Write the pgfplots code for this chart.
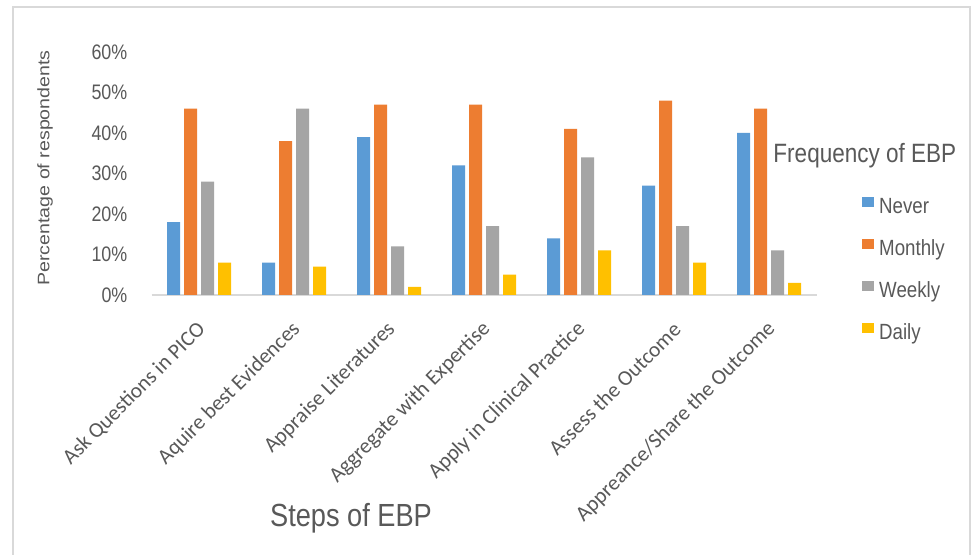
\documentclass[border=0pt]{standalone}
\usepackage{fontspec}
\usepackage{graphicx}
\usepackage{pgfplots}
\pgfplotsset{compat=1.18}
\setmainfont{Liberation Sans}
\newfontfamily\nar[FakeStretch=0.85]{Liberation Sans}
\newfontfamily\calfont{Carlito}
\definecolor{cNever}{HTML}{5B9BD5}
\definecolor{cMonthly}{HTML}{ED7D31}
\definecolor{cWeekly}{HTML}{A5A5A5}
\definecolor{cDaily}{HTML}{FFC000}
\definecolor{txt}{HTML}{595959}
\definecolor{framec}{HTML}{D9D9D9}
\begin{document}
\begin{tikzpicture}[x=1pt,y=1pt]
\useasboundingbox (0,0) rectangle (974,554);
\fill[white] (0,0) rectangle (974,554);
\draw[framec, line width=1.5pt] (13,-10) rectangle (970,547);
\begin{axis}[
  at={(151.5pt,259pt)}, anchor=south west,
  scale only axis, width=665pt, height=243pt,
  xmin=-0.5, xmax=6.5, ymin=0, ymax=60,
  clip=false,
  ybar=4pt, bar width=13pt,
  axis x line=bottom, axis y line=left,
  x axis line style={draw=framec, line width=1.2pt, -},
  y axis line style={draw=none},
  major tick length=0pt,
  xtick={0,...,6},
  xticklabels={Ask Questions in PICO, Aquire best Evidences, Appraise Literatures, Aggregate with Expertise, Apply in Clinical Practice, Assess the Outcome, Appreance/Share the Outcome},
  ytick={0,10,...,60},
  yticklabels={0\%,10\%,20\%,30\%,40\%,50\%,60\%},
  yticklabel style={font=\nar\fontsize{21}{25}\selectfont, text=txt, inner sep=0pt, xshift=-24pt},
  xticklabel style={font=\calfont\fontsize{21.5}{26}\selectfont, text=txt, inner sep=0pt, xshift=3pt, yshift=-31pt, rotate=45, anchor=east},
  ylabel={\scalebox{1}[0.85]{Percentage of respondents}},
  every axis y label/.style={at={(axis description cs:-0.160,0.523)}, rotate=90, anchor=center, font=\fontsize{19.6}{23}\selectfont, text=txt},
  xlabel={Steps of EBP},
  every axis x label/.style={at={(axis description cs:0.300,-0.918)}, anchor=center, font=\nar\fontsize{32}{36}\selectfont, text=txt},
  legend image code/.code={\fill[#1] (0pt,1pt) rectangle (12pt,11pt);},
  legend cell align=left,
  legend style={at={(axis description cs:1.0684,0.403)}, anchor=north west, draw=none, fill=none, inner sep=0pt,
    font=\nar\fontsize{22}{26}\selectfont, text=txt, row sep=20.3pt,
    nodes={text height=15pt, text depth=4pt, inner sep=1pt},
    /tikz/every odd column/.append style={column sep=4pt}},
]
\addplot[fill=cNever, draw=none] coordinates {(0,18) (1,8) (2,39) (3,32) (4,14) (5,27) (6,40)};
\addplot[fill=cMonthly, draw=none] coordinates {(0,46) (1,38) (2,47) (3,47) (4,41) (5,48) (6,46)};
\addplot[fill=cWeekly, draw=none] coordinates {(0,28) (1,46) (2,12) (3,17) (4,34) (5,17) (6,11)};
\addplot[fill=cDaily, draw=none] coordinates {(0,8) (1,7) (2,2) (3,5) (4,11) (5,8) (6,3)};
\legend{Never, Monthly, Weekly, Daily}
\node[anchor=base west, font=\nar\fontsize{26.5}{30}\selectfont, text=txt, inner sep=0pt] at (axis description cs:0.935,0.547) {Frequency of EBP};
\end{axis}
\end{tikzpicture}
\end{document}
